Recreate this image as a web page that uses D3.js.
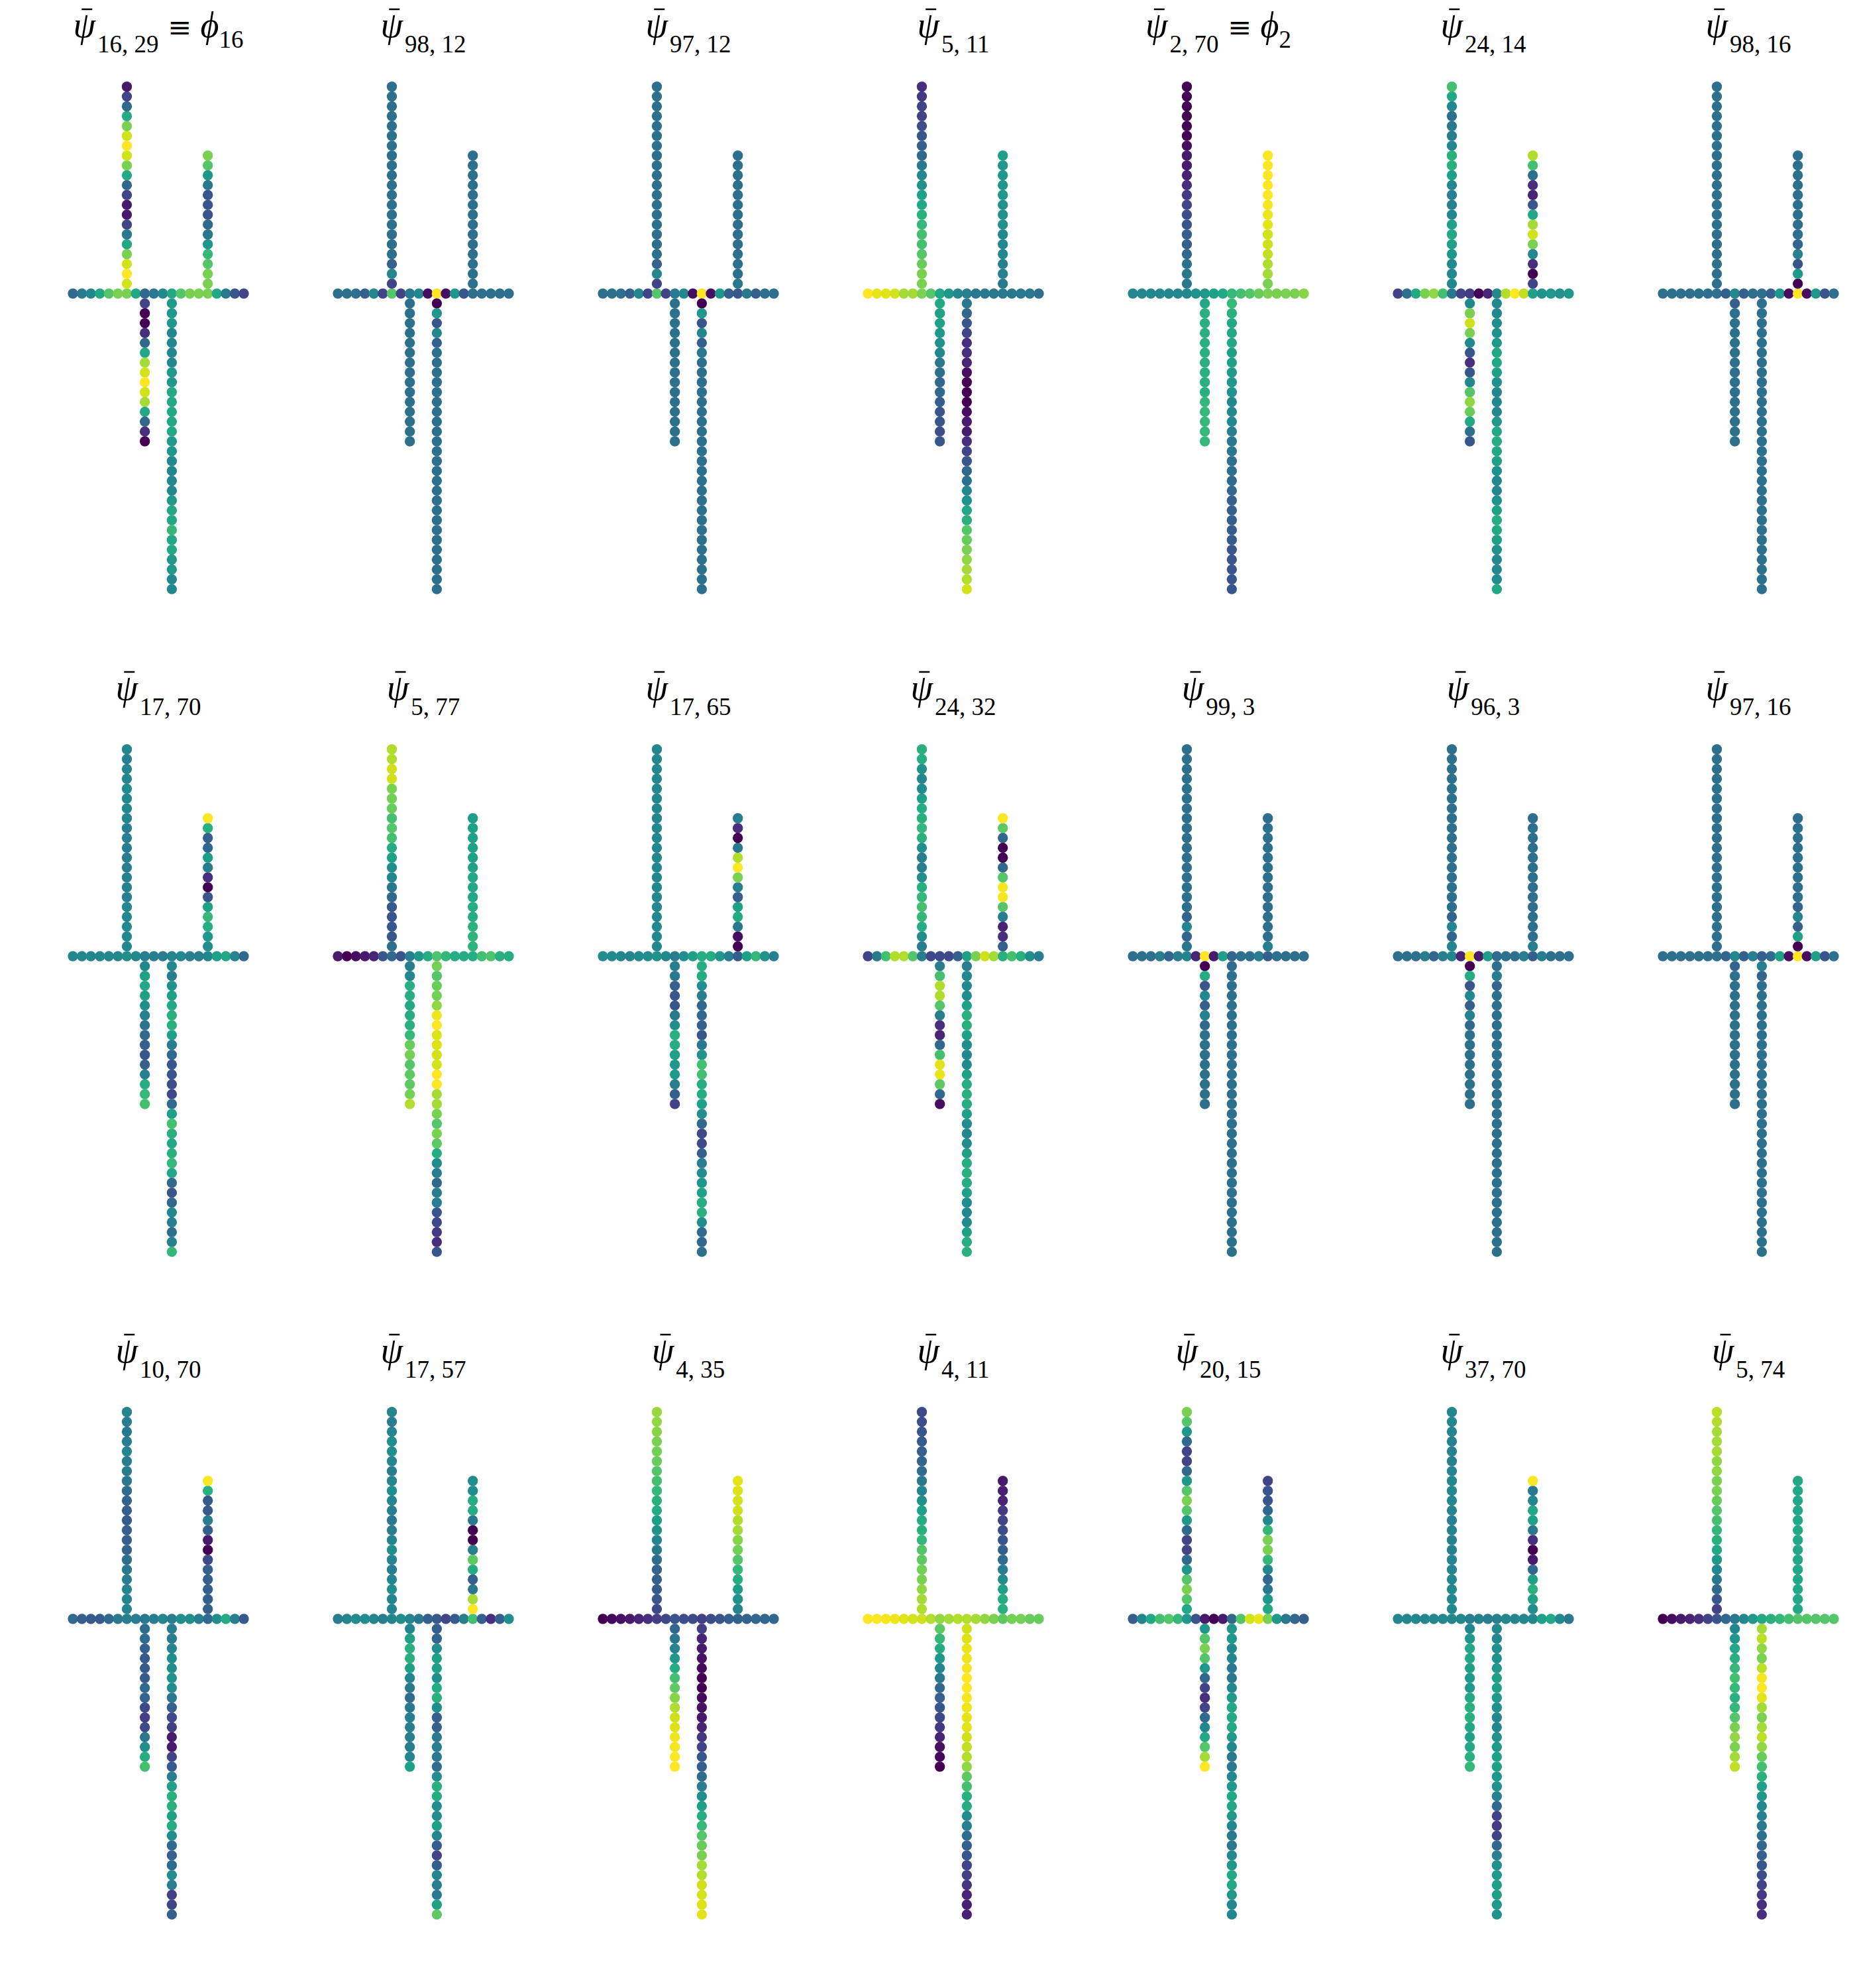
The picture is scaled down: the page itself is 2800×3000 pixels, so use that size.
<!DOCTYPE html>
<html><head><meta charset="utf-8">
<script src="https://cdn.jsdelivr.net/npm/d3@7"></script>
<style>body{margin:0;background:#fff}</style>
</head><body>
<svg id="chart" width="2800" height="3000" xmlns="http://www.w3.org/2000/svg"></svg>
<script>
// ---- Panel titles ----
const psiSubscripts = ["16, 29","98, 12","97, 12","5, 11","2, 70","24, 14","98, 16",
  "17, 70","5, 77","17, 65","24, 32","99, 3","96, 3","97, 16",
  "10, 70","17, 57","4, 35","4, 11","20, 15","37, 70","5, 74"];
const phiSubscripts = ["16",null,null,null,"2",null,null,
  null,null,null,null,null,null,null,
  null,null,null,null,null,null,null];

// ---- Graph structure: main path + 4 branches ----
// branch order: H (left->right), U1 (up, bottom->top), U2 (up), D1 (down, top->bottom), D2 (down)
const branchLengths = [20, 21, 14, 15, 30];
const branchAnchors = [null, 6, 15, 8, 11];
const branchDirs    = [0, 1, 1, -1, -1];

// ---- Node values (viridis level, 0..15), order: H(20) U1(21) U2(14) D1(15) D2(30) ----
const psi_16_29 = [5,6,7,9,11,12,12,9,5,6,7,9,11,12,12,12,9,6,4,3,
  14,15,14,12,9,6,3,1,1,3,5,9,12,14,15,14,12,9,5,3,1,
  12,12,11,10,8,6,5,4,4,4,6,8,11,12,
  3,0,0,2,5,9,13,14,15,14,13,9,5,2,0,
  8,8,8,7,7,7,7,8,8,9,9,9,9,9,8,8,7,7,7,7,8,9,9,10,9,9,8,8,7,7];
const psi_98_12 = [5.5,5.5,5.5,4.5,7,3,11,3,6,7,0.5,15,0.5,8,4,5.5,5.5,5.5,5.5,5.5,
  3,7,4.5,5.5,5.5,5.5,5.5,5.5,5.5,5.5,5.5,5.5,5.5,5.5,5.5,5.5,5.5,5.5,5.5,5.5,5.5,
  5.5,5.5,5.5,5.5,5.5,5.5,5.5,5.5,5.5,5.5,5.5,5.5,5.5,5.5,
  5.5,5.5,5.5,5.5,5.5,5.5,5.5,5.5,5.5,5.5,5.5,5.5,5.5,5.5,5.5,
  0,8,4,7,4.5,5.5,5.5,5.5,5.5,5.5,5.5,5.5,5.5,5.5,5.5,5.5,5.5,5.5,5.5,5.5,5.5,5.5,5.5,5.5,5.5,5.5,5.5,5.5,5.5,5.5];
const psi_97_12 = [5.5,5.5,5.5,4.5,7,3,11,3,6,7,0.5,15,0.5,8,4.5,4,6,4.5,5.5,5.5,
  3,7,4.5,5.5,5.5,5.5,5.5,5.5,5.5,5.5,5.5,5.5,5.5,5.5,5.5,5.5,5.5,5.5,5.5,5.5,5.5,
  6,5.5,5.5,5.5,5.5,5.5,5.5,5.5,5.5,5.5,5.5,5.5,5.5,5.5,
  5.5,5.5,5.5,5.5,5.5,5.5,5.5,5.5,5.5,5.5,5.5,5.5,5.5,5.5,5.5,
  0,8,4,7,4.5,6,5.5,5.5,5.5,5.5,5.5,5.5,5.5,5.5,5.5,5.5,5.5,5.5,5.5,5.5,5.5,5.5,5.5,5.5,5.5,5.5,5.5,5.5,5.5,5.5];
const psi_5_11 = [15,14.5,14.3,14,13,13,12,11,9,8,7,6.5,6,6,6,6,6,6,6,5.5,
  12,12,11.5,11,10.5,10.5,10,9.5,9,8.5,7.5,7,6,5,4.5,4,3.5,3,3,2.5,2,
  6,6.5,6.5,7,7,7,7.5,7.5,7.5,8,8,8,8,8.5,
  9,8.5,8.5,8,7.5,7,6,5.5,5,5,4.5,4,4,3.5,4,
  6,5,4,3,2,2,1.5,0.5,0,0,0,0.5,1,1,2,3,4,5,5.5,7,7.5,9,9.5,11,11.5,12,12.5,13,13.3,14];
const psi_2_70 = [7,7,7,7,7,7,7,7.5,8,8.5,9,10,10.5,11,11.5,12,12,12,12,12.3,
  6,6,5.5,5,4.5,4.5,4,3.5,3,2.5,2,1.5,1,1,0.5,0,0,0,0,0,0,
  12,13,13.2,13.6,13.9,14,14.4,14.6,14.8,14.9,15,15,15,15,
  9,9.5,9.5,9.5,9.5,9.5,9.5,9.5,9.5,9.5,10,10,10,10,10,
  10,9.5,9,9,9,8.5,8.5,8,8,7.5,7,7,7,6.5,6,6,5.5,5.5,5,5,4.5,4.5,4.5,4.3,4.2,4,4,4,4,4];
const psi_24_14 = [3,5.5,9,12,12.5,10.5,6,3,2.5,0,1.5,7,13.3,15,13.6,8.5,7.5,8,7.5,8,
  7,7,7,8,8.5,9,8.5,7,6.5,6.5,7,8.5,9.5,9.5,7,6.3,6,5.5,7,9,10.5,
  3,0,2,7,12,14,13,9,4,1.5,2,5.5,10.5,13.3,
  7,12,13.9,12,7,4,2,4,7,11,12.5,11.5,9,5.5,4,
  7,7,7.2,7.5,8,9,9,8.5,7.5,7,7,7,8,9,9.3,9,8.5,7.5,7,7,7.5,8.5,9.3,9,8.5,7.5,7,7,7.3,9];
const psi_98_16 = [5.5,5.5,5.5,5.5,5.5,5.5,5.5,4.5,7,4.5,5.5,5.5,4.5,8,0.5,15,0.5,8,4,5.5,
  5.5,5.5,5.5,5.5,5.5,5.5,5.5,5.5,5.5,5.5,5.5,5.5,5.5,5.5,5.5,5.5,5.5,5.5,5.5,5.5,5.5,
  0,8,4,6.5,4.8,5.5,5.5,5.5,5.5,5.5,5.5,5.5,5.5,5.5,
  4.5,5.5,5.5,5.5,5.5,5.5,5.5,5.5,5.5,5.5,5.5,5.5,5.5,5.5,5.5,
  5.5,5.5,5.5,5.5,5.5,5.5,5.5,5.5,5.5,5.5,5.5,5.5,5.5,5.5,5.5,5.5,5.5,5.5,5.5,5.5,5.5,5.5,5.5,5.5,5.5,5.5,5.5,5.5,5.5,5.5];
const psi_17_70 = [7,7,7,7,7,7,7.3,7,6.5,6.3,6.3,6.8,7,6.5,6.3,7,8.5,9,6.8,5,
  7,7,7,7,7,6.5,6.5,6.5,6.3,6.3,6.3,6.5,6.5,6.8,7,7,7.2,7,6.8,6.5,7,
  7.3,8,9.3,10,8.5,4,0,2,6.2,8.3,5,4.5,9.5,15,
  7,8.5,9,8.5,7.3,6.5,5.7,5,4.5,4,4.7,6.5,9.3,10,10.5,
  7,6.3,7.5,8.5,9,9.5,9.5,8.5,6.3,5,4,4,3.5,3.3,5.2,8.5,10.5,9.5,9,9.5,10,9,5,4,5,7,6.5,5.5,6.5,10];
const psi_5_77 = [1,0,0.5,1,1.5,4,5,4,6.3,8,9.3,10.8,10,9.3,9.2,9.3,10.5,10.8,9.5,9.2,
  5.5,4,4,4,4.2,5,6,7,7.3,8.5,9.2,10.5,11,10.5,11.5,11.8,12,13.9,13.9,13.3,13.2,
  9.7,9.7,9.5,9.3,9.3,9,9,9,8.7,8.5,8.5,8.5,8.5,8.3,
  6.3,7,9.5,9.3,9,9.2,9.5,10,11.5,11.8,11,11.3,11.3,11.8,13.2,
  11.8,11,11.5,11.8,12.5,14.6,15,14.2,14.2,14,14,15,15,13,13,12,11,12,11.3,9.2,7.3,6.3,5,6.3,6.3,4,3.3,2.5,2,4];
const psi_17_65 = [7.3,7.2,7,6.8,7.2,7.3,7.5,7,6.3,7.3,8.5,9.3,9.2,8,6.3,4.5,8.5,10,7.5,6.5,
  7,7,7,7,7,7,7,7,7,7,7,7,7,7,7,7,7,7,7,7,7,
  0,0.5,6,9.2,8.5,4.5,6.3,12,15,13.2,6,0,2,6.3,
  6.3,6,4.5,4,4,6,7.3,9.5,9.3,8.5,8,8,6.3,4.5,3,
  9.3,9.2,7.3,6.3,5,5,4.5,4,6,7.7,10.5,10.5,9.3,9.2,8.5,7.3,5,3.3,3.3,4.5,6.3,7.3,8,8.5,9.3,9.5,7.3,5.2,5,5.5];
const psi_24_32 = [3,6,10.5,13.3,13.3,11,6.3,3.3,3.3,3.3,4.5,8.5,12,13.9,13,9.5,10.5,9.5,7.3,6.3,
  6.3,7.3,9.2,10,10.5,10,9.3,7.3,6.3,6.3,7.3,9.5,10,9.5,9.3,8.5,7.2,7,7.5,9.3,9.5,
  4.5,2,1.5,6.3,11,14.8,14.8,11,5,0,0,5,11.3,15,
  6.3,10.5,13.3,13.3,11,6.3,2,1.5,5,10.5,14.3,14.5,11.3,5,0.5,
  6.3,7,7,7.3,8.5,9.5,9.5,8.5,7.3,7,7.2,8.5,9.3,9.5,9.3,8.5,7.3,7,7.3,8.5,9.3,9.5,9.3,8.5,7.3,7,7.2,8.5,9.3,9.5];
const psi_99_3 = [5.5,5.5,5.5,6.3,4.8,6.3,6.8,1.5,15,1,8.5,4.8,5.5,5.5,6.3,4.5,5.5,5.5,5.5,5.5,
  6,4.8,6.8,4.8,5.5,5.5,5.5,5.5,5.5,5.5,5.5,5.5,5.5,5.5,5.5,5.5,5.5,5.5,5.5,5.5,5.5,
  6.3,5.5,5.5,5.5,5.5,5.5,5.5,5.5,5.5,5.5,5.5,5.5,5.5,5.5,
  0,9.2,4,7,4.5,6.5,5,5.5,5.5,5.5,5.5,5.5,5.5,5.5,5.5,
  5.2,5.5,5.5,5.5,5.5,5.5,5.5,5.5,5.5,5.5,5.5,5.5,5.5,5.5,5.5,5.5,5.5,5.5,5.5,5.5,5.5,5.5,5.5,5.5,5.5,5.5,5.5,5.5,5.5,5.5];
const psi_96_3 = [5.5,5.5,5.5,6.3,4.8,6.3,6.8,1.5,15,1,8.5,5.2,5.5,5.5,6.3,4.5,6.3,5.5,5.5,5.5,
  6.8,4.8,6.8,4.8,5.5,5.5,5.5,5.5,5.5,5.5,5.5,5.5,5.5,5.5,5.5,5.5,5.5,5.5,5.5,5.5,5.5,
  6.3,5.5,5.5,5.5,5.5,5.5,5.5,5.5,5.5,5.5,5.5,5.5,5.5,5.5,
  0,9.2,4,7,4.5,6.5,5,5.5,5.5,5.5,5.5,5.5,5.5,5.5,5.5,
  5.5,6.3,4.8,5.5,5.5,5.5,5.5,5.5,5.5,5.5,5.5,5.5,5.5,5.5,5.5,5.5,5.5,5.5,5.5,5.5,5.5,5.5,5.5,5.5,5.5,5.5,5.5,5.5,5.5,5.5];
const psi_97_16 = [5.5,5.5,5.5,5.5,5.5,5.5,5.5,4.8,6.8,4.5,6.3,4.5,5.2,8.5,0.5,15,0.5,8.5,4,5.5,
  5.5,5.5,5.5,5.5,5.5,5.5,5.5,5.5,5.5,5.5,5.5,5.5,5.5,5.5,5.5,5.5,5.5,5.5,5.5,5.5,5.5,
  0,8.5,4.5,6.8,4.8,5.5,5.5,5.5,5.5,5.5,5.5,5.5,5.5,5.5,
  4.8,5.5,5.5,5.5,5.5,5.5,5.5,5.5,5.5,5.5,5.5,5.5,5.5,5.5,5.5,
  6.3,4.8,5.5,5.5,5.5,5.5,5.5,5.5,5.5,5.5,5.5,5.5,5.5,5.5,5.5,5.5,5.5,5.5,5.5,5.5,5.5,5.5,5.5,5.5,5.5,5.5,5.5,5.5,5.5,5.5];
const psi_10_70 = [5.2,4.5,4.2,4.2,5,6,6.3,6.3,6,6.3,6.8,6.3,7.3,7.3,6.3,5.2,7.3,9.2,6.3,4.2,
  6.8,6.8,6.8,6.3,6,5.5,4.8,4.5,4.5,4.3,4.5,4.8,5.2,6,6.3,6.3,6.8,6.3,6,6.3,6.8,
  4.5,4.5,4.5,4.5,4.5,3.3,0,1,4.5,6.3,4.2,4.2,9.5,15,
  5.3,5.2,4.5,4.2,4.2,4.3,5.2,4.8,3.3,2.8,3.3,6,7.3,9.2,10.5,
  6.3,6.3,6.8,7.3,7.3,7.7,7.3,6,4.5,3.3,2.8,1,1,3,4.2,6.3,8.5,9.5,9.5,8.5,9.2,7.3,5,4.5,5.2,7.3,6.3,2.8,3,4.5];
const psi_17_57 = [6.3,6.8,7.2,7.3,6.8,6.3,6.8,7.3,6.8,6,4.5,4.2,3.2,4.2,6.3,10.5,4.5,2,4.5,7.3,
  6.8,6.8,7.3,6.8,6.3,6.8,7.3,6.8,6.3,6,6.3,6.8,7.3,6.8,6.3,6.8,7.3,7.3,6.8,6.3,6.8,
  15,13,6,4.5,9.2,11.3,6.3,0,0,6,9.2,9.2,7.3,7.3,
  6.8,8.5,9.5,9.5,8.5,6.8,6,5.2,6,6.3,6.3,6.3,6.3,6.8,8.5,
  4.5,4.8,7.3,8.5,8.5,7.3,9.2,9.5,7.3,4.5,4.5,6,6.3,6,5.2,7.3,9.5,9.2,7.3,7.3,8.5,6.8,4.5,3,4.5,6.8,6.3,6,8.5,11.3];
const psi_4_35 = [0,0.3,0.6,1,1.5,2,2.8,3.2,4,3.5,3.3,2.8,3.5,4,4.5,4.7,4.8,5,5,5,
  3.3,4,4.2,4.5,4.8,5.3,6,6.8,7.5,8.3,9.2,9.5,10,10.5,11,11.5,11.8,12,12.3,12.5,12.7,
  6.8,7.5,8.3,9.3,10,11,11.8,12.3,13,13.3,13.9,14,14.2,14.4,
  5,6,6.8,8,9.2,10.5,11.3,12.3,13.2,13.9,14.2,14.6,14.8,14.9,15,
  2.8,1.5,1,0.7,0.4,0.1,0,0.3,0.7,1,1.5,2.3,3,4,4.5,5.2,6.3,7.3,8.5,9.3,10,11,11.5,12,13,13.3,13.9,14,14.2,14.3];
const psi_4_11 = [15,15,14.8,14.6,14.3,14,13.9,13.3,12.5,13,13.3,13.3,13,12.5,12,11.3,11.8,11.8,11.5,11.5,
  13.2,13,12.5,12,11.8,11.3,11,10,9.5,9.2,8.5,7.5,6.8,6,5.3,4.8,4.5,4.2,4,3.5,3.3,
  9.5,9.2,8.5,7.3,6.3,5.3,4.5,4,3.5,3,2.5,1.5,1.3,1,
  11.3,10,9.2,8,6.8,6,5,4.5,4,3.3,2.5,1.5,0.7,0.4,0,
  13.9,14.2,14.5,14.6,14.8,14.9,14.9,14.8,14.6,14.4,14.3,13.9,13.6,13.3,12.5,11.3,10.5,9.5,9.2,7.3,6.3,5.3,4.5,4,3,2.8,2.3,1.5,1.3,1.4];
const psi_20_15 = [4.5,7,9,10.5,11,10,8,4,1,0,1,5,11,14,14.5,12,8,6,5,4.5,
  9,11,12,11,8,5,3,3,5,8,11,12,11,8,5,3,3,5,8,11,12,
  9,8,6,5,7,10,12,12,10,7,5,4,4,3,
  8,11,12,11,8,5,3,2,3,5,7,9,11,13,15,
  8,8,7,7,6,6,7,8,9,9,9,8,7,6,6,7,8,9,9,8,7,6,6,7,8,9,9,8,7,7];
const psi_37_70 = [7,7,7,7,7,7,7,7,6.5,6.5,6.3,6.5,7,7,7,7,8.5,9,7,6,
  7,7,7,7,6.8,6.8,6.5,6.5,6.5,6.5,6.8,7,7,7,6.8,6.5,6.5,6.5,6.8,7,7,
  7.3,8.5,9.5,8.5,5,1,0,2,6,8.5,9,7,6,15,
  7,8,9,9,8.5,8,8,9,9.5,9.5,9,8.5,9,9.5,10,
  7,7,7.3,7.5,8,8.5,8.5,8,7.5,7,7,7.5,8,8.5,8.5,8,7.5,6.5,5,3,2.5,3,5,6.5,7.5,8,8.5,8.5,8,7.5];
const psi_5_74 = [0,0.5,1,1.5,2,3,4,5,6,7,8,9,9.5,10,10.5,11,11,11,11,11,
  3,4,5,6,7,8,9,9.5,10,10.5,11,11.5,12,12,12.5,12.5,13,13,13,13.3,13.5,
  9,9,9,9,9,9,9,9,9,9,9,9,9,9,
  7,8,9,9.5,10,10.5,10,9.5,10,11,12,12.5,12,13,13.5,
  13,13.5,12.5,12,13.5,14.8,15,14.3,13,12,13,13.5,12.5,11.5,10.5,9.5,8.5,8,7,6.5,6,5.5,5,4.5,4,3.5,3,2.5,2,2];

const panelValues = [psi_16_29, psi_98_12, psi_97_12, psi_5_11, psi_2_70, psi_24_14, psi_98_16,
  psi_17_70, psi_5_77, psi_17_65, psi_24_32, psi_99_3, psi_96_3, psi_97_16,
  psi_10_70, psi_17_57, psi_4_35, psi_4_11, psi_20_15, psi_37_70, psi_5_74];

// ---- Build graph node layout (grid coordinates) ----
const nodes = [];
branchLengths.forEach((n, b) => {
  for (let k = 0; k < n; k++) {
    if (b === 0) nodes.push({gx: k, gy: 0});
    else nodes.push({gx: branchAnchors[b], gy: branchDirs[b] * (k + 1)});
  }
});

const svg = d3.select("#chart");
svg.append("rect").attr("width", 2800).attr("height", 3000).attr("fill", "#fff");

const color = d3.scaleSequential(d3.interpolateViridis).domain([0, 15]);
const xScale = d3.scaleLinear().domain([0, 19]).range([110, 368]);
const yScale = d3.scaleLinear().domain([-30, 21]).range([889.1, 130.7]);

const mainSize = 54, subSize = 37, baseY = 56;

panelValues.forEach((vals, p) => {
  const col = p % 7, row = Math.floor(p / 7);
  const g = svg.append("g").attr("transform", `translate(${col * 400},${row * 1000})`);
  g.selectAll("circle").data(nodes).join("circle")
    .attr("cx", d => xScale(d.gx))
    .attr("cy", d => yScale(d.gy))
    .attr("r", 7.7)
    .attr("fill", (d, i) => color(vals[i]));

  const cx = (xScale(0) + xScale(19)) / 2;
  const t = g.append("text")
    .attr("x", cx).attr("y", baseY)
    .attr("text-anchor", "middle")
    .attr("font-family", "'Liberation Serif', 'DejaVu Serif', serif")
    .attr("font-size", mainSize)
    .attr("fill", "#000");
  t.append("tspan").attr("font-style", "italic").text("\u03C8");
  t.append("tspan").attr("font-size", subSize).attr("dy", 23).attr("dx", 3).text(psiSubscripts[p]);
  if (phiSubscripts[p]) {
    t.append("tspan").attr("dy", -23).text(" ");
    t.append("tspan").attr("font-family", "'DejaVu Serif', serif").attr("font-size", 43).text("\u2261");
    t.append("tspan").text(" ");
    t.append("tspan").attr("font-style", "italic").text("\u03D5");
    t.append("tspan").attr("font-size", subSize).attr("dy", 16).text(phiSubscripts[p]);
  }
  // macron (bar) over psi
  const ext = t.node().getExtentOfChar(0);
  const bx = ext.x + ext.width * 0.62;
  g.append("line")
    .attr("x1", bx - 8).attr("x2", bx + 8)
    .attr("y1", baseY - 42).attr("y2", baseY - 42)
    .attr("stroke", "#000").attr("stroke-width", 2.5);
});
</script>
</body></html>
